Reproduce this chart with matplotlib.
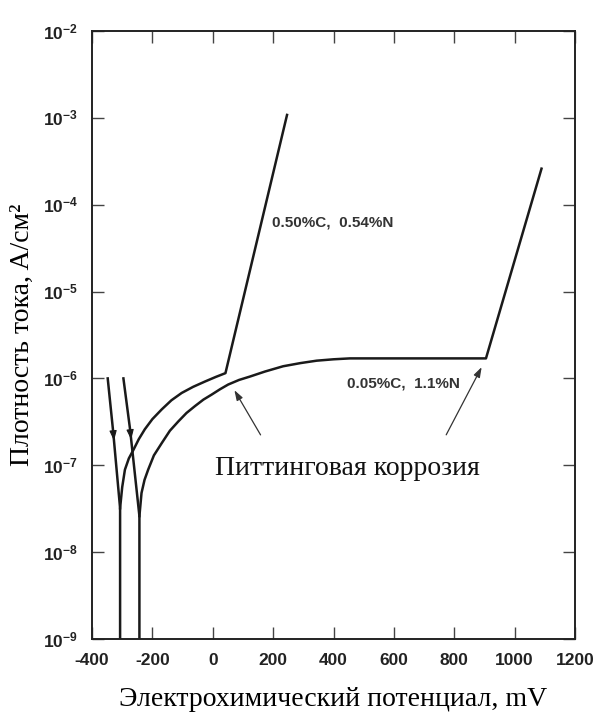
import matplotlib.pyplot as plt
from matplotlib.ticker import FixedLocator, NullLocator, FuncFormatter
import numpy as np

plt.rcParams['mathtext.fontset'] = 'custom'
plt.rcParams['mathtext.rm'] = 'Liberation Sans'
plt.rcParams['mathtext.it'] = 'Liberation Sans'
plt.rcParams['mathtext.bf'] = 'Liberation Sans:bold'

# 0.50%C, 0.54%N
c1_cath_x = [-348, -330, -307, -307]
c1_cath_y = [1e-6, 2.45e-7, 3.2e-8, 1e-9]
c1_anod_x = [-307, -300, -291, -278, -263, -245, -225, -200, -169, -137, -103, -65, -26, 10, 42, 246]
c1_anod_y = [3.2e-8, 5.6e-8, 8.9e-8, 1.2e-7, 1.5e-7, 2.0e-7, 2.6e-7, 3.4e-7, 4.4e-7,
             5.6e-7, 6.8e-7, 8.0e-7, 9.2e-7, 1.04e-6, 1.15e-6, 1.08e-3]

# 0.05%C, 1.1%N
c2_cath_x = [-296, -274, -243, -243]
c2_cath_y = [1e-6, 2.6e-7, 2.6e-8, 1e-9]
c2_anod_x = [-243, -236, -226, -214, -195, -169, -142, -114, -87, -59, -31, -4, 24, 51,
             87, 123, 173, 233, 290, 344, 400, 454, 905, 1089]
c2_anod_y = [2.6e-8, 4.8e-8, 6.8e-8, 8.9e-8, 1.3e-7, 1.8e-7, 2.5e-7, 3.2e-7, 4.0e-7,
             4.8e-7, 5.7e-7, 6.5e-7, 7.5e-7, 8.5e-7, 9.6e-7, 1.05e-6, 1.2e-6, 1.38e-6,
             1.5e-6, 1.6e-6, 1.66e-6, 1.7e-6, 1.7e-6, 2.6e-4]

x_ticks = [-400, -200, 0, 200, 400, 600, 800, 1000, 1200]
y_ticks = [1e-9, 1e-8, 1e-7, 1e-6, 1e-5, 1e-4, 1e-3, 1e-2]

fig = plt.figure(figsize=(6.03, 7.17), dpi=100)
ax = fig.add_axes([0.1526, 0.1088, 0.801, 0.848])

lw = 1.8
ink = '#1a1a1a'
ax.plot(c1_cath_x, c1_cath_y, color=ink, lw=lw)
ax.plot(c1_anod_x, c1_anod_y, color=ink, lw=lw)
ax.plot(c2_cath_x, c2_cath_y, color=ink, lw=lw)
ax.plot(c2_anod_x, c2_anod_y, color=ink, lw=lw)

# стрелки на катодных ветвях
for xs, ys in [(c1_cath_x, c1_cath_y), (c2_cath_x, c2_cath_y)]:
    x0, y0 = xs[1], ys[1]
    t = 0.12
    x1 = x0 + t * (xs[2] - x0)
    y1 = 10 ** (np.log10(y0) + t * (np.log10(ys[2]) - np.log10(y0)))
    ax.annotate('', xy=(x1, y1), xytext=(x0, y0),
                arrowprops=dict(arrowstyle='-|>,head_length=0.6,head_width=0.22',
                                color=ink, lw=0.8, shrinkA=0, shrinkB=0))

ax.set_yscale('log')
ax.set_xlim(-400, 1200)
ax.set_ylim(1e-9, 1e-2)
ax.xaxis.set_major_locator(FixedLocator(x_ticks))
ax.yaxis.set_major_locator(FixedLocator(y_ticks))
ax.yaxis.set_minor_locator(NullLocator())
ax.yaxis.set_major_formatter(FuncFormatter(lambda v, p: r'$\mathbf{10^{%d}}$' % round(np.log10(v))))
ax.xaxis.set_major_formatter(FuncFormatter(lambda v, p: '%d' % v))

ax.tick_params(which='major', direction='in', length=8.5, width=1.0, color='#444444',
               top=True, right=True)
ax.tick_params(axis='x', labelsize=12.5, pad=10)
ax.tick_params(axis='y', labelsize=12.5, pad=10)
for lab in ax.get_xticklabels():
    lab.set_fontfamily('Liberation Sans')
    lab.set_fontweight('bold')
    lab.set_color('#222222')
for lab in ax.get_yticklabels():
    lab.set_color('#222222')
for s in ax.spines.values():
    s.set_linewidth(1.4)
    s.set_color('#222222')

ax.set_xlabel('Электрохимический потенциал, mV', fontfamily='Liberation Serif',
              fontsize=20, labelpad=14)
ax.set_ylabel('Плотность тока, A/см²', fontfamily='Liberation Serif',
              fontsize=20, labelpad=6)

ax.text(196, 6.3e-5, '0.50%C,  0.54%N', fontfamily='Liberation Sans', fontweight='bold',
        fontsize=11, color='#333333', va='center', ha='left')
ax.text(444, 8.7e-7, '0.05%C,  1.1%N', fontfamily='Liberation Sans', fontweight='bold',
        fontsize=11, color='#333333', va='center', ha='left')

ax.text(446, 9.3e-8, 'Питтинговая коррозия', fontfamily='Liberation Serif',
        fontsize=20, color='#111111', ha='center', va='center')
ax.annotate('', xy=(67, 7.8e-7), xytext=(163, 2.1e-7),
            arrowprops=dict(arrowstyle='-|>,head_length=0.6,head_width=0.2',
                            color='#333333', lw=0.9))
ax.annotate('', xy=(895, 1.44e-6), xytext=(769, 2.1e-7),
            arrowprops=dict(arrowstyle='-|>,head_length=0.6,head_width=0.2',
                            color='#333333', lw=0.9))

fig.savefig('out.png', dpi=100)
